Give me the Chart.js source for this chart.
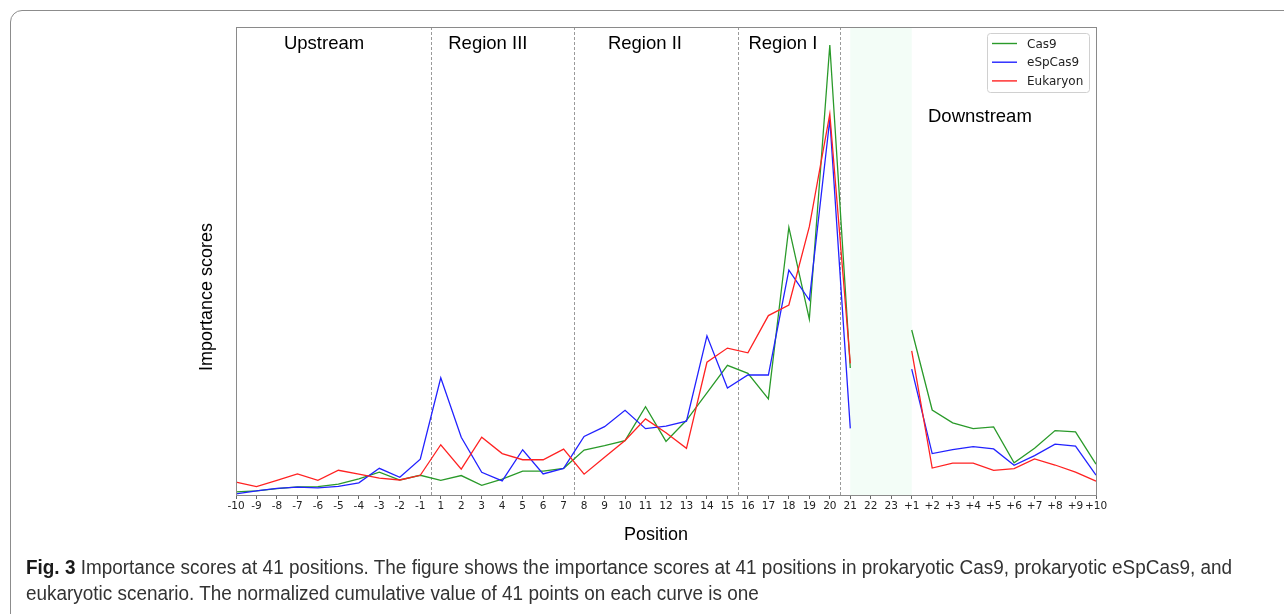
<!DOCTYPE html>
<html>
<head>
<meta charset="utf-8">
<script src="https://cdn.jsdelivr.net/npm/chart.js@4"></script>
<style>
html, body { margin: 0; padding: 0; background: #fff; overflow: hidden; }
#wrap { position: relative; width: 1284px; height: 614px; overflow: hidden; }
#frame { position: absolute; left: 10px; top: 10px; width: 1320px; height: 700px; border: 1px solid #8c8c8c; border-radius: 12px; }
#chart { position: absolute; left: 0; top: 0; }
#caption { position: absolute; left: 26px; top: 554px; font-family: "Liberation Sans Narrow", "Liberation Sans", sans-serif; font-size: 19.5px; line-height: 26px; color: #333; white-space: nowrap; transform-origin: 0 0; }
#caption b { color: #1a1a1a; }
</style>
</head>
<body>
<div id="wrap">
  <div id="frame"></div>
  <canvas id="chart" width="1284" height="614"></canvas>
  <div id="caption"><span id="line1"><b>Fig. 3</b> Importance scores at 41 positions. The figure shows the importance scores at 41 positions in prokaryotic Cas9, prokaryotic eSpCas9, and</span><br>eukaryotic scenario. The normalized cumulative value of 41 points on each curve is one</div>
</div>
<script>
// positions along the sequence (22 and 23 have no score)
const positions = ['-10', '-9', '-8', '-7', '-6', '-5', '-4', '-3', '-2', '-1',
    '1', '2', '3', '4', '5', '6', '7', '8', '9', '10', '11', '12', '13', '14', '15', '16', '17', '18', '19', '20', '21', '22', '23',
    '+1', '+2', '+3', '+4', '+5', '+6', '+7', '+8', '+9', '+10'];

const cas9 = [0.0011, 0.0015, 0.0023, 0.0029, 0.0030, 0.0039, 0.0058, 0.0082, 0.0054, 0.0071,
    0.0053, 0.0070, 0.0035, 0.0057, 0.0086, 0.0086, 0.0096, 0.0162, 0.0178, 0.0196, 0.0318, 0.0193, 0.0269, 0.0368, 0.0467, 0.0438, 0.0346, 0.0964, 0.0633, 0.1620, 0.0457, null, null,
    0.0594, 0.0306, 0.0260, 0.0239, 0.0245, 0.0116, 0.0168, 0.0232, 0.0227, 0.0111];

const espCas9 = [0.0004, 0.0015, 0.0024, 0.0028, 0.0026, 0.0031, 0.0044, 0.0096, 0.0064, 0.0129,
    0.0422, 0.0208, 0.0082, 0.0051, 0.0163, 0.0076, 0.0096, 0.0211, 0.0246, 0.0305, 0.0239, 0.0248, 0.0266, 0.0573, 0.0385, 0.0432, 0.0432, 0.0810, 0.0702, 0.1353, 0.0240, null, null,
    0.0453, 0.0149, 0.0163, 0.0174, 0.0166, 0.0107, 0.0142, 0.0183, 0.0176, 0.0072];

const eukaryon = [0.0046, 0.0030, 0.0053, 0.0076, 0.0053, 0.0089, 0.0075, 0.0061, 0.0054, 0.0071,
    0.0181, 0.0093, 0.0208, 0.0149, 0.0127, 0.0127, 0.0165, 0.0075, 0.0136, 0.0196, 0.0274, 0.0224, 0.0168, 0.0478, 0.0529, 0.0512, 0.0646, 0.0684, 0.0966, 0.1372, 0.0474, null, null,
    0.0519, 0.0097, 0.0115, 0.0115, 0.0089, 0.0095, 0.0130, 0.0108, 0.0082, 0.0050];

const seriesNames = ['Cas9', 'eSpCas9', 'Eukaryon'];
const seriesColors = ['#2a9a2a', '#2222ff', '#ff2222'];
const regionNames = ['Upstream', 'Region III', 'Region II', 'Region I', 'Downstream'];

// fit caption line to the page width
const cap = document.getElementById('caption');
const w1 = document.getElementById('line1').getBoundingClientRect().width;
cap.style.transform = 'scaleX(' + (1206 / w1) + ')';

const regionPlugin = {
    id: 'regions',
    beforeDatasetsDraw(chart) {
        const { ctx, chartArea: a, scales: { x } } = chart;
        ctx.save();
        // missing positions 21..+1 are shaded
        const s0 = x.getPixelForValue(30), s1 = x.getPixelForValue(33);
        ctx.fillStyle = '#f3fdf7';
        ctx.fillRect(s0, a.top, s1 - s0, a.bottom - a.top);
        // region boundaries
        ctx.strokeStyle = '#9a9a9a';
        ctx.lineWidth = 1;
        ctx.setLineDash([3, 2]);
        [9.5, 16.5, 24.5, 29.5].forEach(b => {
            const px = Math.round(x.getPixelForValue(b)) + 0.5;
            ctx.beginPath();
            ctx.moveTo(px, a.top);
            ctx.lineTo(px, a.bottom);
            ctx.stroke();
        });
        ctx.restore();
    },
    afterDraw(chart) {
        const { ctx, chartArea: a, scales: { x } } = chart;
        ctx.save();
        // frame
        ctx.strokeStyle = '#8a8a8a';
        ctx.lineWidth = 1;
        ctx.strokeRect(Math.round(a.left) + 0.5, Math.round(a.top) + 0.5, Math.round(a.right - a.left), Math.round(a.bottom - a.top));

        // region names
        ctx.fillStyle = '#000';
        ctx.font = '18.5px "Liberation Sans", Arial, sans-serif';
        ctx.textAlign = 'center';
        ctx.textBaseline = 'middle';
        const spots = [[4.3, 44], [12.3, 44], [19.97, 44], [26.71, 44], [36.33, 117]];
        regionNames.forEach((n, i) => ctx.fillText(n, x.getPixelForValue(spots[i][0]), spots[i][1]));

        // axis titles
        ctx.font = '18px "Liberation Sans", Arial, sans-serif';
        ctx.fillText('Position', 656, 535);
        ctx.save();
        ctx.translate(207, 297);
        ctx.rotate(-Math.PI / 2);
        ctx.fillText('Importance scores', 0, 0);
        ctx.restore();

        // legend
        const lx = 987.5, ly = 33.5, lw = 102, lh = 59;
        ctx.fillStyle = 'rgba(255,255,255,0.9)';
        ctx.strokeStyle = '#d0d0d0';
        ctx.beginPath();
        ctx.roundRect(lx, ly, lw, lh, 3);
        ctx.fill();
        ctx.stroke();
        ctx.font = '12px "DejaVu Sans", sans-serif';
        ctx.textAlign = 'left';
        seriesNames.forEach((n, i) => {
            const yy = 43.5 + i * 18.7;
            ctx.strokeStyle = seriesColors[i];
            ctx.lineWidth = 1.4;
            ctx.beginPath();
            ctx.moveTo(992, yy);
            ctx.lineTo(1017, yy);
            ctx.stroke();
            ctx.fillStyle = '#222';
            ctx.fillText(n, 1027, yy + 1);
        });
        ctx.restore();
    }
};

const seriesData = [cas9, espCas9, eukaryon];
new Chart(document.getElementById('chart'), {
    type: 'line',
    data: {
        labels: positions,
        datasets: seriesNames.map((n, i) => ({
            label: n,
            data: seriesData[i],
            borderColor: seriesColors[i],
            borderWidth: 1.3,
            pointRadius: 0,
            tension: 0,
            spanGaps: false,
            order: 2 - i
        }))
    },
    options: {
        responsive: false,
        animation: false,
        layout: { padding: { left: 236, right: 188, top: 27, bottom: 99 } },
        plugins: { legend: { display: false }, tooltip: { enabled: false } },
        scales: {
            x: {
                offset: false,
                afterFit(scale) { scale.height = 20; },
                grid: { drawOnChartArea: false, drawTicks: true, tickLength: 4, color: '#666' },
                border: { display: false },
                ticks: { autoSkip: false, maxRotation: 0, minRotation: 0, padding: 1, color: '#222', font: { family: 'DejaVu Sans', size: 10.5 } }
            },
            y: { display: false, min: 0, max: 0.1685 }
        }
    },
    plugins: [regionPlugin]
});
</script>
</body>
</html>
